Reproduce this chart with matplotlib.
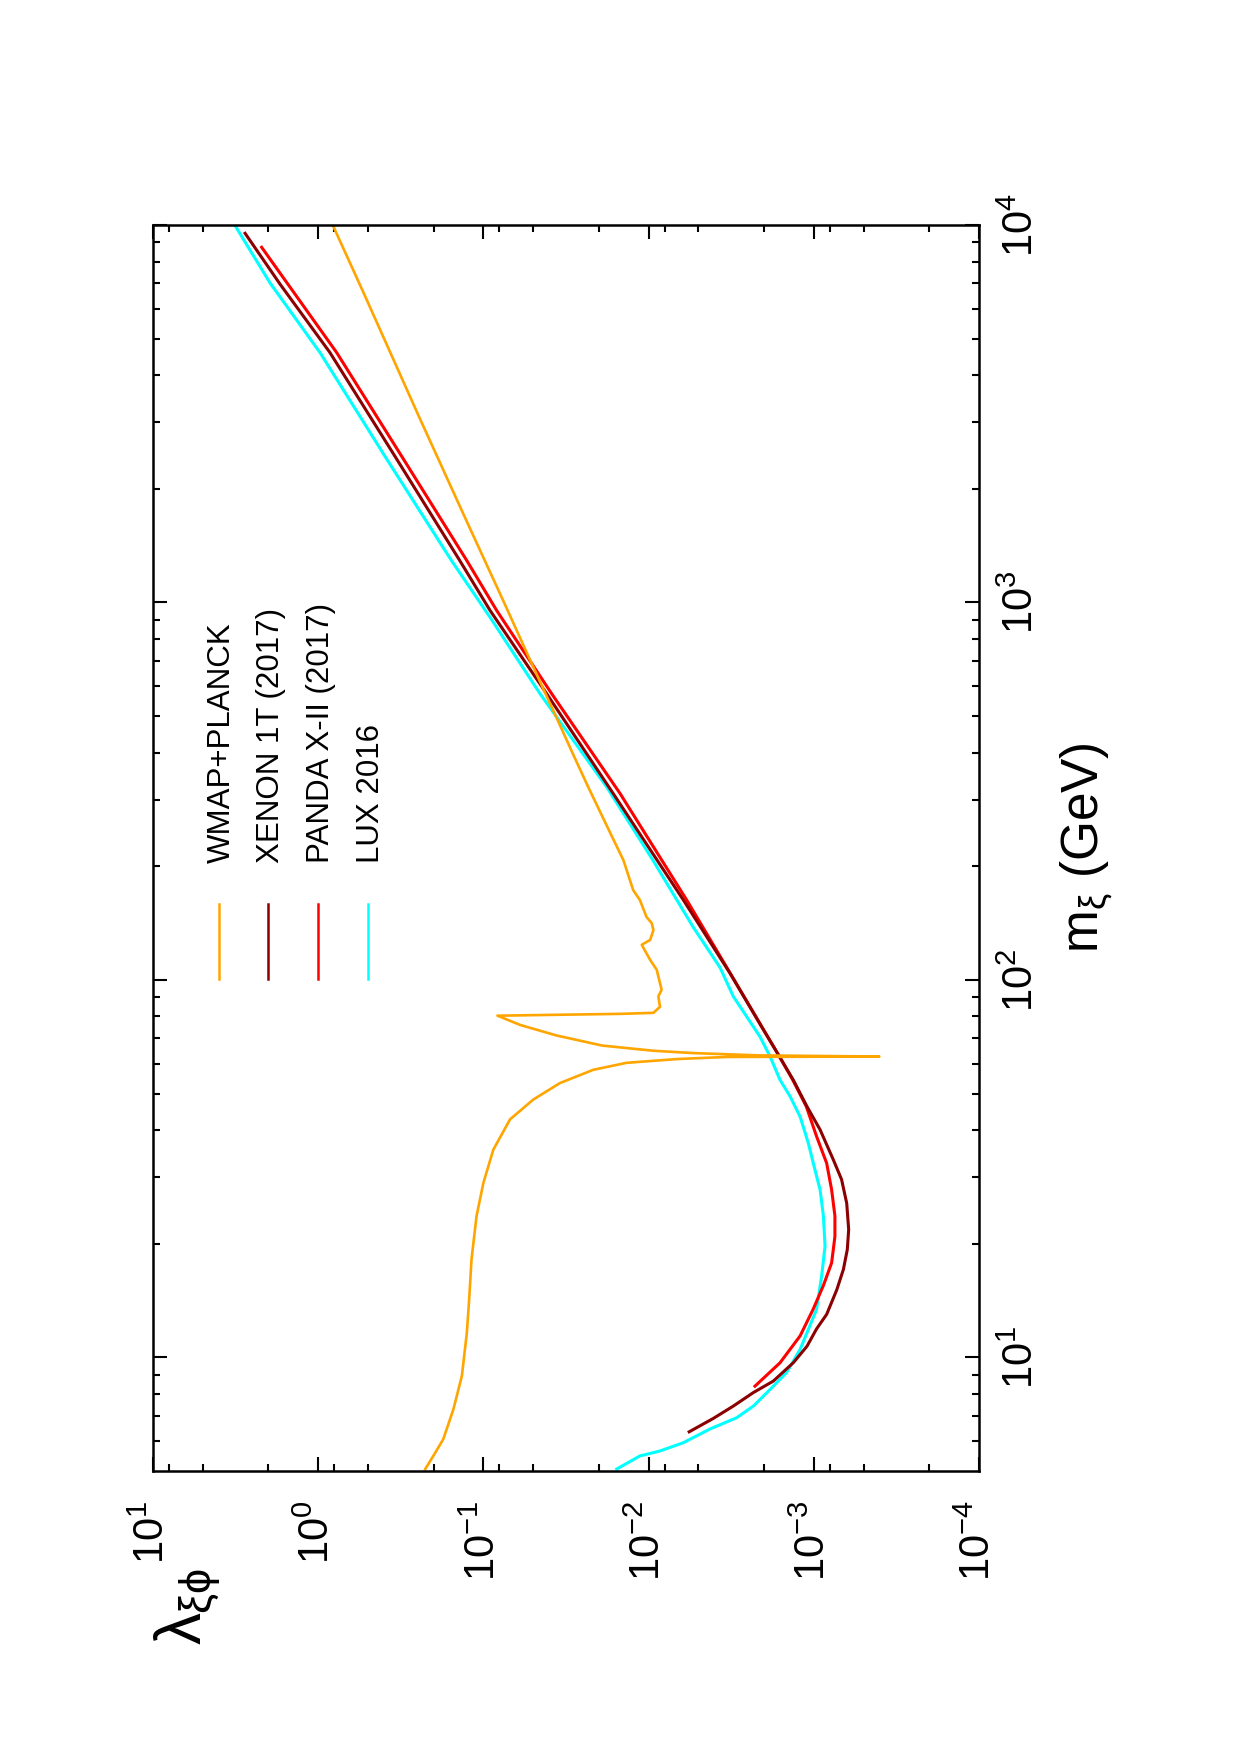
import numpy as np
import matplotlib as mpl
mpl.use('Agg')
import matplotlib.pyplot as plt

plt.rcParams['font.family'] = 'Liberation Sans'
plt.rcParams['mathtext.fontset'] = 'custom'
plt.rcParams['mathtext.rm'] = 'Liberation Sans'
plt.rcParams['mathtext.it'] = 'Liberation Sans'
plt.rcParams['mathtext.bf'] = 'Liberation Sans:bold'

# m_xi in GeV, lambda_xi_phi
wmap_m = [5.06, 5.48, 6.07, 7.28, 8.93, 11.6, 14.2, 18.2, 23.7, 29.0, 35.5, 42.7,
          48.2, 53.3, 57.8, 60.3, 61.7, 62.5, 62.66, 63.1, 64.0, 64.9, 67.0, 71.3,
          76.0, 80.4, 80.9, 81.3, 81.8, 84.9, 90.4, 94.2, 106.4, 113.0, 123.9,
          127.6, 135.5, 141.3, 146.9, 162.9, 173.0, 207.5, 254.7, 324.3, 398.1,
          487.5, 703.1, 1011.6, 1663, 3126, 6622, 9931]
wmap_lam = [0.225, 0.201, 0.175, 0.152, 0.135, 0.126, 0.122, 0.118, 0.110, 0.100,
            8.71e-2, 6.90e-2, 4.99e-2, 3.44e-2, 2.16e-2, 1.36e-2, 6.76e-3, 3.37e-3,
            4.01e-4, 2.14e-3, 5.37e-3, 9.33e-3, 1.91e-2, 3.63e-2, 6.0e-2, 8.22e-2,
            3.16e-2, 1.48e-2, 9.35e-3, 8.53e-3, 8.73e-3, 8.34e-3, 8.93e-3, 9.79e-3,
            1.10e-2, 9.79e-3, 9.35e-3, 9.57e-3, 1.03e-2, 1.13e-2, 1.24e-2, 1.42e-2,
            1.78e-2, 2.32e-2, 2.88e-2, 3.55e-2, 5.21e-2, 7.59e-2, 0.128, 0.247,
            0.532, 0.811]

xenon_m = [6.35, 6.89, 7.43, 8.07, 8.65, 9.68, 10.7, 11.9, 13.0, 15.1, 17.1, 19.3,
           21.8, 25.6, 29.6, 33.4, 40.1, 46.2, 54.3, 63.4, 73.8, 104, 163, 312,
           573, 953, 1291, 2399, 4592, 6966, 9506]
xenon_lam = [5.68e-3, 4.06e-3, 3.07e-3, 2.32e-3, 1.76e-3, 1.33e-3, 1.10e-3, 9.62e-4,
             8.36e-4, 7.26e-4, 6.62e-4, 6.27e-4, 6.15e-4, 6.32e-4, 6.79e-4, 7.62e-4,
             9.16e-4, 1.10e-3, 1.33e-3, 1.64e-3, 2.02e-3, 3.21e-3, 6.17e-3, 1.64e-2,
             4.14e-2, 9.12e-2, 0.139, 0.335, 0.849, 1.70, 2.77]

panda_m = [8.39, 9.68, 11.4, 13.4, 15.5, 17.8, 20.9, 23.7, 27.8, 32.7, 38.5, 46.2,
           54.3, 63.4, 98, 163, 312, 573, 953, 1291, 2399, 4592, 8730]
panda_lam = [2.27e-3, 1.60e-3, 1.21e-3, 1.01e-3, 8.75e-4, 7.80e-4, 7.45e-4, 7.45e-4,
             7.80e-4, 8.36e-4, 9.62e-4, 1.11e-3, 1.34e-3, 1.64e-3, 2.95e-3, 5.89e-3,
             1.49e-2, 3.86e-2, 8.32e-2, 0.126, 0.305, 0.773, 2.20]

lux_m = [5.06, 5.48, 5.65, 5.94, 6.46, 6.92, 7.43, 8.22, 9.12, 10.5, 13.4, 16.4,
         19.7, 23.7, 27.8, 31.4, 37.0, 43.4, 49.1, 54.3, 62.7, 70.8, 90.4, 108,
         138, 207, 324, 573, 914, 1291, 2399, 4592, 7031, 9977]
lux_lam = [1.56e-2, 1.13e-2, 8.53e-3, 6.17e-3, 4.25e-3, 2.93e-3, 2.32e-3, 1.84e-3,
           1.46e-3, 1.21e-3, 9.62e-4, 8.97e-4, 8.55e-4, 8.75e-4, 9.16e-4, 9.84e-4,
           1.08e-3, 1.21e-3, 1.39e-3, 1.60e-3, 1.84e-3, 2.12e-3, 3.07e-3, 3.70e-3,
           5.37e-3, 9.38e-3, 1.79e-2, 4.54e-2, 9.12e-2, 0.156, 0.385, 0.975, 1.96, 3.19]

series = [
    ('WMAP+PLANCK', wmap_m, wmap_lam, '#ffa500', 1.9),
    ('XENON 1T (2017)', xenon_m, xenon_lam, '#8b0000', 2.2),
    ('PANDA X-II (2017)', panda_m, panda_lam, '#ff0000', 2.2),
    ('LUX 2016', lux_m, lux_lam, '#00ffff', 2.2),
]

lam_ticks = [1e1, 1e0, 1e-1, 1e-2, 1e-3, 1e-4]
lam_labels = [r'10$^{1}$', r'10$^{0}$', r'10$^{-1}$', r'10$^{-2}$', r'10$^{-3}$', r'10$^{-4}$']
m_ticks = [1e1, 1e2, 1e3, 1e4]
m_labels = [r'10$^{1}$', r'10$^{2}$', r'10$^{3}$', r'10$^{4}$']

# the whole gnuplot page is rotated: lambda runs right-to-left, m runs upward
fig = plt.figure(figsize=(12.4, 17.55), dpi=100)
ax = fig.add_axes([153/1240, 1 - 1471/1755, 826/1240, 1246/1755])

for i in [3, 2, 1, 0]:
    name, m, lam, col, lw = series[i]
    ax.plot(lam, m, color=col, lw=lw, solid_joinstyle='round', zorder=2 + (3 - i) * 0.1)

ax.set_xscale('log')
ax.set_yscale('log')
ax.set_xlim(10, 1e-4)
ax.set_ylim(5, 1e4)

ax.set_xticks(lam_ticks)
ax.set_xticklabels(lam_labels)
ax.set_xticks([f * 10.0**k for k in range(-4, 1) for f in (2, 5, 8)], minor=True)
ax.set_yticks(m_ticks)
ax.set_yticklabels(m_labels)
ax.set_yticks([f * 10.0**k for k in range(0, 4) for f in range(2, 10) if 5 < f * 10.0**k < 1e4],
              minor=True)
ax.xaxis.set_minor_formatter(mpl.ticker.NullFormatter())
ax.yaxis.set_minor_formatter(mpl.ticker.NullFormatter())

ax.tick_params(which='both', direction='in', top=True, bottom=True, left=True, right=True,
               width=1.5)
ax.tick_params(which='major', length=10)
ax.tick_params(which='minor', length=5)
ax.tick_params(axis='x', labelsize=30, labelrotation=90, pad=21)
ax.tick_params(axis='y', labelsize=30, labelrotation=90, labelleft=False, labelright=True, pad=16)
for t in ax.yaxis.get_major_ticks():
    t.label2.set_verticalalignment('center')
for s in ax.spines.values():
    s.set_linewidth(1.8)

ax.yaxis.set_label_position('right')
ax.set_ylabel(r'm$_{\xi}$ (GeV)', fontsize=37, rotation=90, labelpad=12)
fig.text(188/1240, 1 - 1606/1755, r'$\lambda_{\xi\phi}$', fontsize=46, rotation=90,
         ha='center', va='center')

# legend drawn by hand because the text runs vertically
base_x = [0.0932, 0.1525, 0.2131, 0.2736]
for k, (name, m, lam, col, lw) in enumerate(series):
    ax.text(base_x[k], 0.488, name, transform=ax.transAxes, fontsize=22.5, rotation=90,
            rotation_mode='anchor', ha='left', va='baseline')
    sx = base_x[k] - 0.0135
    ax.plot([sx, sx], [0.395, 0.455], transform=ax.transAxes, color=col, lw=1.8)

fig.savefig('out.png', dpi=100)
